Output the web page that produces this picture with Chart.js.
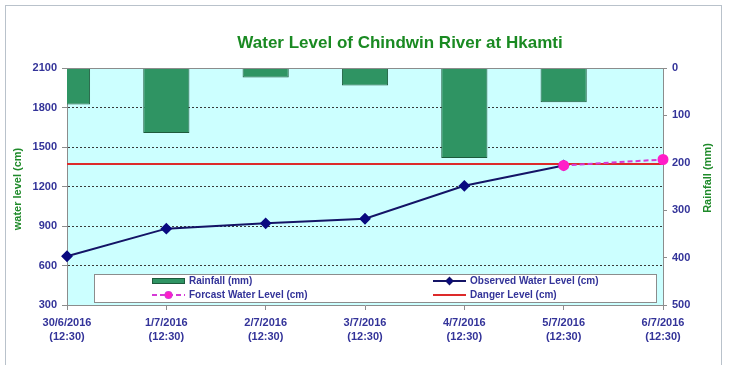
<!DOCTYPE html>
<html>
<head>
<meta charset="utf-8">
<script src="https://cdn.jsdelivr.net/npm/chart.js@4.4.1/dist/chart.umd.min.js"></script>
<style>
  html, body { margin: 0; padding: 0; background: #ffffff; }
  #wrap { position: relative; width: 730px; height: 365px; overflow: hidden; }
  #frame { position: absolute; left: 5px; top: 5px; width: 717px; height: 380px; border: 1px solid #b9c2cb; box-sizing: border-box; pointer-events: none; }
  canvas { position: absolute; left: 0; top: 0; }
</style>
</head>
<body>
<div id="wrap">
  <canvas id="c" width="730" height="365"></canvas>
  <div id="frame"></div>
</div>
<script>
// ---- data ----
const categories = [
  ['30/6/2016', '(12:30)'],
  ['1/7/2016', '(12:30)'],
  ['2/7/2016', '(12:30)'],
  ['3/7/2016', '(12:30)'],
  ['4/7/2016', '(12:30)'],
  ['5/7/2016', '(12:30)'],
  ['6/7/2016', '(12:30)']
];
const rainfall = [77, 137, 20, 37, 190, 72, null];
const observedLevel = [670, 880, 920, 955, 1205, 1360, null];
const forecastLevel = [null, null, null, null, null, 1360, 1405];
const dangerLevel = [1370, 1370, 1370, 1370, 1370, 1370, 1370];
const levelTicks = { min: 300, max: 2100, step: 300 };
const rainTicks = { min: 0, max: 500, step: 100 };
const titleText = 'Water Level of Chindwin River at Hkamti';
const leftTitle = 'water level (cm)';
const rightTitle = 'Rainfall (mm)';

const FONT = '"Liberation Sans", Arial, sans-serif';
const TICK_COLOR = '#333399';
const GREEN_TEXT = '#1f8a2a';

const decorPlugin = {
  id: 'decor',
  beforeDraw(chart) {
    const { ctx, chartArea: a } = chart;
    ctx.save();
    ctx.fillStyle = '#ccffff';
    ctx.fillRect(a.left, a.top, a.right - a.left, a.bottom - a.top);
    ctx.restore();
  },
  afterDraw(chart) {
    const { ctx, chartArea: a } = chart;
    ctx.save();
    // top border of plot area
    ctx.strokeStyle = '#8c8c8c';
    ctx.lineWidth = 1;
    ctx.beginPath();
    ctx.moveTo(a.left, a.top + 0.5);
    ctx.lineTo(a.right, a.top + 0.5);
    ctx.stroke();

    // title
    ctx.fillStyle = '#1a8a22';
    ctx.font = 'bold 17px ' + FONT;
    ctx.textAlign = 'center';
    ctx.textBaseline = 'middle';
    ctx.fillText(titleText, 400, 43);

    // axis titles
    ctx.fillStyle = GREEN_TEXT;
    ctx.font = 'bold 11px ' + FONT;
    ctx.save();
    ctx.translate(18, 189);
    ctx.rotate(-Math.PI / 2);
    ctx.fillText(leftTitle, 0, 0);
    ctx.restore();
    ctx.save();
    ctx.translate(708, 178);
    ctx.rotate(-Math.PI / 2);
    ctx.fillText(rightTitle, 0, 0);
    ctx.restore();

    // legend box
    const bx = 94, by = 274, bw = 562, bh = 28;
    ctx.fillStyle = '#ffffff';
    ctx.fillRect(bx, by, bw, bh);
    ctx.strokeStyle = '#8c8c8c';
    ctx.strokeRect(bx + 0.5, by + 0.5, bw, bh);

    const ds = chart.data.datasets;
    const items = [
      { d: ds[0], x: 152, y: 281, kind: 'bar' },
      { d: ds[2], x: 433, y: 281, kind: 'line' },
      { d: ds[3], x: 152, y: 295, kind: 'line' },
      { d: ds[1], x: 433, y: 295, kind: 'line' }
    ];
    ctx.font = 'bold 10px ' + FONT;
    ctx.textAlign = 'left';
    ctx.textBaseline = 'middle';
    items.forEach(it => {
      const d = it.d;
      if (it.kind === 'bar') {
        ctx.fillStyle = d.backgroundColor;
        ctx.fillRect(it.x, it.y - 3, 33, 6);
        ctx.strokeStyle = d.borderColor;
        ctx.lineWidth = 1;
        ctx.strokeRect(it.x + 0.5, it.y - 2.5, 32, 5);
      } else {
        ctx.strokeStyle = d.borderColor;
        ctx.lineWidth = d.borderWidth || 2;
        ctx.setLineDash(d.borderDash || []);
        ctx.beginPath();
        ctx.moveTo(it.x, it.y);
        ctx.lineTo(it.x + 33, it.y);
        ctx.stroke();
        ctx.setLineDash([]);
        if (d.pointRadius > 0) {
          Chart.helpers.drawPoint(ctx, {
            pointStyle: d.pointStyle,
            radius: d.pointRadius - 1.5,
            borderWidth: 1,
            rotation: 0
          }, it.x + 16.5, it.y);
          ctx.fillStyle = d.pointBackgroundColor;
          ctx.strokeStyle = d.pointBorderColor;
          ctx.fill();
        }
      }
      ctx.fillStyle = TICK_COLOR;
      ctx.fillText(d.label, it.x + 37, it.y);
    });
    ctx.restore();
  }
};

const plainNumber = v => String(v);

const chart = new Chart(document.getElementById('c'), {
  data: {
    labels: categories,
    datasets: [
      {
        type: 'bar',
        label: 'Rainfall (mm)',
        data: rainfall,
        yAxisID: 'y1',
        backgroundColor: '#2f9463',
        borderColor: '#1e5a3c',
        borderWidth: 1,
        categoryPercentage: 1,
        barPercentage: 0.465,
        clip: 0,
        order: 4
      },
      {
        type: 'line',
        label: 'Danger Level (cm)',
        data: dangerLevel,
        yAxisID: 'y',
        borderColor: '#dd2a2a',
        borderWidth: 2,
        pointRadius: 0,
        order: 3
      },
      {
        type: 'line',
        label: 'Observed Water Level (cm)',
        data: observedLevel,
        yAxisID: 'y',
        borderColor: '#141466',
        borderWidth: 2,
        pointStyle: 'rectRot',
        pointRadius: 4.5,
        pointBackgroundColor: '#0a0a80',
        pointBorderColor: '#0a0a80',
        order: 2
      },
      {
        type: 'line',
        label: 'Forcast Water Level (cm)',
        data: forecastLevel,
        yAxisID: 'y',
        borderColor: '#d63ad6',
        borderWidth: 2,
        borderDash: [5, 3],
        pointStyle: 'circle',
        pointRadius: 4.5,
        pointBackgroundColor: '#ff1ec8',
        pointBorderColor: '#ff1ec8',
        order: 1
      }
    ]
  },
  options: {
    responsive: false,
    animation: false,
    layout: { padding: { top: 68, left: 0, right: 0, bottom: 0 } },
    plugins: {
      legend: { display: false },
      title: { display: false },
      tooltip: { enabled: false }
    },
    scales: {
      x: {
        type: 'category',
        offset: false,
        afterFit: s => { s.height = 60; },
        grid: {
          drawOnChartArea: false,
          drawTicks: true,
          tickLength: 5,
          tickColor: '#8c8c8c',
          offset: false
        },
        border: { display: true, color: '#8c8c8c', width: 1 },
        ticks: {
          autoSkip: false,
          maxRotation: 0,
          padding: 6,
          color: TICK_COLOR,
          font: { family: FONT, size: 11, weight: 'bold', lineHeight: 1.3 }
        }
      },
      y: {
        position: 'left',
        min: levelTicks.min,
        max: levelTicks.max,
        afterFit: s => { s.width = 67; },
        ticks: {
          stepSize: levelTicks.step,
          callback: plainNumber,
          padding: 5,
          color: TICK_COLOR,
          font: { family: FONT, size: 11, weight: 'bold' }
        },
        grid: {
          color: ctx => (ctx.tick && (ctx.tick.value === levelTicks.min || ctx.tick.value === levelTicks.max)) ? 'rgba(0,0,0,0)' : '#3a3a3a',
          lineWidth: 1,
          tickLength: 5,
          tickColor: '#8c8c8c',
          tickBorderDash: []
        },
        border: { display: true, color: '#8c8c8c', width: 1, dash: [2, 2] }
      },
      y1: {
        position: 'right',
        reverse: true,
        min: rainTicks.min,
        max: rainTicks.max,
        afterFit: s => { s.width = 67; },
        ticks: {
          stepSize: rainTicks.step,
          callback: plainNumber,
          padding: 5,
          color: TICK_COLOR,
          font: { family: FONT, size: 11, weight: 'bold' }
        },
        grid: {
          drawOnChartArea: false,
          tickLength: 4,
          tickColor: '#8c8c8c'
        },
        border: { display: true, color: '#8c8c8c', width: 1 }
      }
    }
  },
  plugins: [decorPlugin]
});
</script>
</body>
</html>
